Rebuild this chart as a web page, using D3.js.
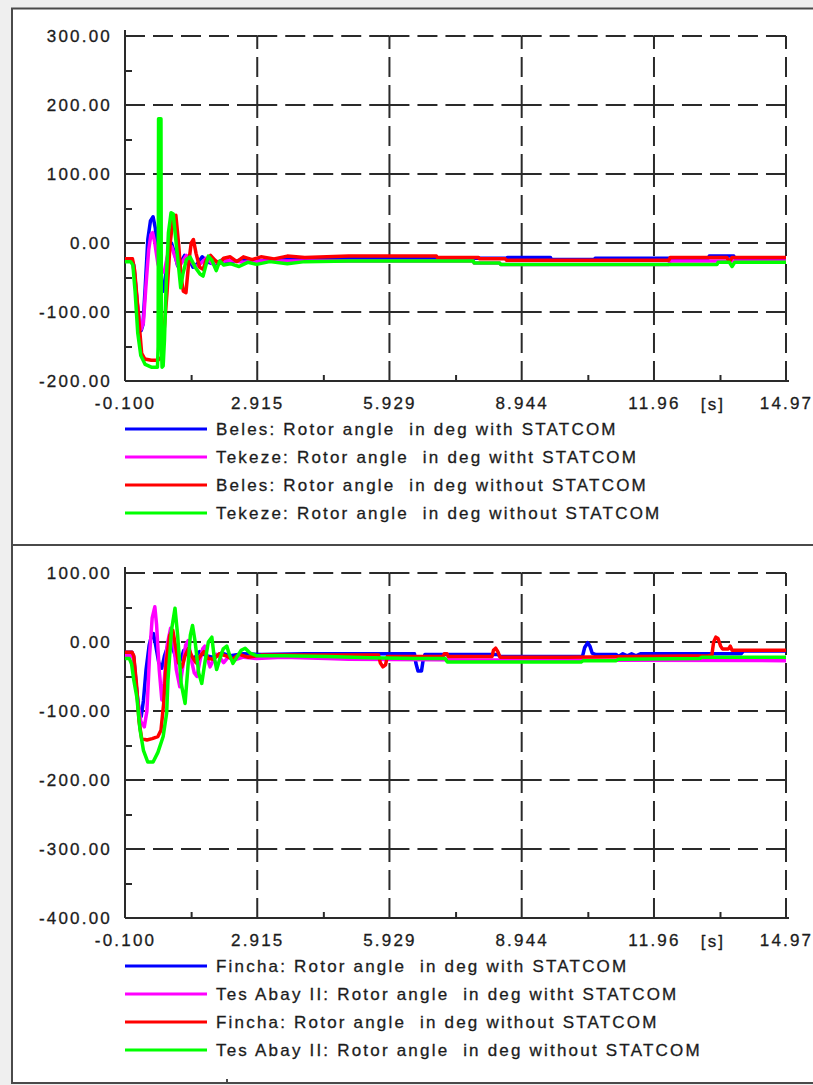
<!DOCTYPE html>
<html>
<head>
<meta charset="utf-8">
<script src="https://cdn.jsdelivr.net/npm/d3@7"></script>
<style>
  body { margin: 0; background: #fff; }
  text { font-family: "Liberation Sans", Arial, sans-serif; font-size: 17px; letter-spacing: 2.2px; fill: #1c1c1c; stroke: #1c1c1c; stroke-width: 0.3px; white-space: pre; }
</style>
</head>
<body>
<div id="chart"></div>
<script>
// ---- data ----
const xTickLabels = ["-0.100", "2.915", "5.929", "8.944", "11.96", "14.97"];
const topYTicks = [300, 200, 100, 0, -100, -200];
const bottomYTicks = [100, 0, -100, -200, -300, -400];
const seriesColors = ["#0000ff", "#ff00ff", "#ff0000", "#00ff00"];

const topLegend = [
    "Beles: Rotor angle  in deg with STATCOM",
    "Tekeze: Rotor angle  in deg witht STATCOM",
    "Beles: Rotor angle  in deg without STATCOM",
    "Tekeze: Rotor angle  in deg without STATCOM"
];
const bottomLegend = [
    "Fincha: Rotor angle  in deg with STATCOM",
    "Tes Abay II: Rotor angle  in deg witht STATCOM",
    "Fincha: Rotor angle  in deg without STATCOM",
    "Tes Abay II: Rotor angle  in deg without STATCOM"
];

// [time s, angle deg]
const belesWith = [[-0.1,-24],[0.05,-24],[0.1,-32],[0.16,-75],[0.22,-115],[0.27,-127],[0.31,-118],[0.36,-65],[0.42,5],[0.48,32],[0.54,38],[0.59,22],[0.65,-20],[0.71,-55],[0.77,-70],[0.83,-45],[0.89,-10],[0.96,0],[1.03,-15],[1.1,-33],[1.17,-28],[1.26,-18],[1.35,-22],[1.45,-35],[1.55,-30],[1.66,-20],[1.8,-28],[1.95,-31],[2.1,-25],[2.3,-28],[2.6,-24],[3.0,-26],[3.5,-23],[4.5,-22],[8.6,-22],[8.62,-21],[9.6,-21],[9.62,-24],[10.6,-24],[10.62,-22],[13.2,-22],[13.22,-19],[13.78,-19],[13.8,-22],[14.97,-22]];
const tekezeWith = [[-0.1,-26],[0.06,-26],[0.12,-45],[0.2,-100],[0.27,-125],[0.32,-115],[0.38,-60],[0.44,-10],[0.49,12],[0.53,15],[0.58,0],[0.65,-30],[0.72,-45],[0.8,-40],[0.88,-15],[0.96,-5],[1.04,-20],[1.12,-35],[1.2,-28],[1.3,-18],[1.4,-25],[1.5,-35],[1.62,-30],[1.75,-22],[1.9,-30],[2.05,-27],[2.3,-25],[2.6,-28],[3.0,-26],[7.84,-26],[7.86,-29],[8.44,-29],[8.46,-31],[12.3,-31],[12.33,-26],[14.97,-26]];
const belesWithout = [[-0.1,-23],[0.07,-23],[0.12,-40],[0.2,-100],[0.28,-160],[0.35,-168],[0.5,-170],[0.65,-170],[0.74,-165],[0.8,-120],[0.86,-70],[0.93,0],[1.0,38],[1.06,40],[1.12,0],[1.18,-50],[1.23,-70],[1.29,-72],[1.35,-30],[1.41,0],[1.46,5],[1.52,-15],[1.6,-35],[1.68,-38],[1.75,-25],[1.85,-18],[1.95,-25],[2.05,-30],[2.15,-22],[2.3,-20],[2.45,-27],[2.6,-20],[2.8,-24],[3.0,-20],[3.3,-23],[3.6,-19],[4.0,-21],[5.0,-19],[7.0,-19],[7.02,-21],[7.96,-21],[7.98,-23],[8.57,-23],[8.6,-25],[12.3,-25],[12.33,-21],[13.62,-21],[13.68,-27],[13.74,-21],[14.97,-21]];
const tekezeWithout = [[-0.1,-27],[0.03,-27],[0.08,-32],[0.13,-70],[0.19,-130],[0.26,-163],[0.36,-176],[0.5,-180],[0.64,-180],[0.655,-150],[0.665,180],[0.72,180],[0.73,-150],[0.745,-180],[0.77,-178],[0.8,-140],[0.84,-57],[0.89,15],[0.95,44],[1.0,42],[1.08,-9],[1.17,-65],[1.22,-45],[1.3,-24],[1.38,-20],[1.5,-35],[1.61,-45],[1.68,-48],[1.8,-19],[1.88,-25],[1.98,-40],[2.06,-26],[2.15,-32],[2.3,-30],[2.5,-34],[2.7,-28],[2.9,-31],[3.2,-27],[3.6,-30],[4.0,-27],[5.0,-26],[7.84,-26],[7.86,-29],[8.44,-29],[8.46,-31],[13.4,-31],[13.42,-28],[13.68,-28],[13.74,-34],[13.8,-28],[14.97,-28]];

const finchaWith = [[-0.1,-15],[0.06,-15],[0.1,-22],[0.16,-65],[0.22,-100],[0.27,-108],[0.32,-85],[0.38,-40],[0.45,-5],[0.5,8],[0.55,12],[0.6,-5],[0.67,-30],[0.74,-38],[0.8,-20],[0.88,-5],[0.95,-2],[1.02,-15],[1.1,-30],[1.17,-26],[1.24,-12],[1.31,-10],[1.4,-24],[1.5,-22],[1.6,-14],[1.75,-20],[1.9,-22],[2.1,-16],[2.3,-20],[2.6,-17],[3.0,-18],[4.0,-17],[6.5,-17],[6.53,-30],[6.58,-42],[6.66,-42],[6.7,-25],[6.74,-18],[8.4,-18],[8.45,-21],[10.33,-21],[10.38,-8],[10.45,-1],[10.5,-6],[10.55,-16],[10.62,-18],[11.1,-18],[11.15,-21],[11.25,-17],[11.35,-20],[11.45,-17],[11.55,-20],[11.65,-17],[13.95,-17],[14.0,-13],[14.97,-13]];
const tesAbayWith = [[-0.1,-20],[0.06,-20],[0.1,-26],[0.18,-80],[0.26,-115],[0.34,-123],[0.4,-100],[0.46,-20],[0.52,35],[0.58,51],[0.62,25],[0.68,-40],[0.74,-84],[0.79,-60],[0.86,-5],[0.94,20],[1.0,5],[1.07,-40],[1.15,-65],[1.22,-35],[1.28,-5],[1.34,2],[1.41,-25],[1.48,-45],[1.54,-50],[1.6,-30],[1.67,-10],[1.72,-6],[1.78,-25],[1.84,-36],[1.9,-28],[1.98,-18],[2.06,-22],[2.15,-30],[2.25,-22],[2.4,-26],[2.6,-22],[2.9,-24],[3.5,-22],[4.5,-24],[5.0,-25],[8.0,-26],[14.97,-27]];
const finchaWithout = [[-0.1,-15],[0.06,-15],[0.1,-20],[0.16,-60],[0.22,-115],[0.28,-140],[0.4,-142],[0.52,-140],[0.65,-137],[0.72,-128],[0.78,-90],[0.84,-30],[0.92,10],[0.99,17],[1.05,-5],[1.12,-30],[1.2,-36],[1.27,-20],[1.35,-9],[1.42,-20],[1.52,-30],[1.6,-22],[1.7,-14],[1.8,-24],[1.92,-25],[2.05,-17],[2.2,-20],[2.35,-25],[2.5,-18],[2.7,-22],[3.0,-19],[4.0,-19],[5.68,-19],[5.72,-30],[5.78,-36],[5.84,-33],[5.88,-21],[7.15,-21],[7.18,-17],[7.24,-17],[7.27,-21],[8.27,-21],[8.3,-12],[8.35,-9],[8.4,-14],[8.45,-22],[10.0,-22],[13.2,-20],[13.28,-19],[13.32,0],[13.37,7],[13.42,5],[13.48,-6],[13.52,-10],[13.66,-10],[13.7,-6],[13.74,-12],[14.97,-12]];
const tesAbayWithout = [[-0.1,-24],[0.0,-24],[0.05,-32],[0.1,-55],[0.17,-80],[0.24,-126],[0.32,-157],[0.42,-174],[0.54,-174],[0.65,-160],[0.77,-137],[0.85,-103],[0.88,-55],[0.96,17],[1.04,49],[1.1,10],[1.18,-60],[1.27,-89],[1.33,-40],[1.39,10],[1.44,24],[1.5,0],[1.58,-45],[1.65,-60],[1.72,-30],[1.8,0],[1.88,7],[1.93,-20],[1.99,-40],[2.06,-25],[2.14,-10],[2.22,-6],[2.28,-18],[2.36,-31],[2.45,-22],[2.55,-12],[2.64,-9],[2.75,-16],[2.91,-20],[3.5,-20],[4.5,-21],[5.5,-23],[6.5,-24],[7.2,-24],[7.25,-29],[10.3,-29],[10.35,-27],[11.1,-27],[11.15,-25],[13.0,-24],[13.05,-22],[14.97,-22]];

// ---- layout ----
const W = 813, H = 1085;
const plot = {left: 125, right: 786, top: 36, bottom: 381};
const panelShift = 537;

const svg = d3.select("#chart")
    .append("svg")
        .attr("width", W)
        .attr("height", H);

// window frame
svg.append("rect").attr("width", W).attr("height", H).attr("fill", "#efefef");
svg.append("rect").attr("x", 12).attr("y", 9).attr("width", W - 12).attr("height", 1074).attr("fill", "#fff");
const frame = [[12, 8, 12, 1084], [11, 8.5, W, 8.5], [12, 545, W, 545], [12, 1083, W, 1083], [227, 1079, 227, 1083]];
svg.selectAll(".frame")
    .data(frame)
    .join("line")
        .attr("x1", d => d[0]).attr("y1", d => d[1])
        .attr("x2", d => d[2]).attr("y2", d => d[3])
        .attr("stroke", "#4a4a4a")
        .attr("stroke-width", 2);

function drawPanel(offsetY, yTicks, series, names) {
    const g = svg.append("g").attr("transform", `translate(0,${offsetY})`);

    const xTicks = xTickLabels.map(Number);
    const x = d3.scaleLinear()
        .domain([xTicks[0], xTicks[xTicks.length - 1]])
        .range([plot.left, plot.right]);
    const y = d3.scaleLinear()
        .domain([yTicks[yTicks.length - 1], yTicks[0]])
        .range([plot.bottom, plot.top]);

    const xMinor = d3.pairs(xTicks).map(p => (p[0] + p[1]) / 2);
    const yMinor = d3.pairs(yTicks).map(p => (p[0] + p[1]) / 2);

    // dashed grid, drawn cell by cell so every crossing gets a dash
    const hSegs = [];
    yTicks.slice(0, -1).forEach(v => d3.pairs(xTicks).forEach(p => hSegs.push([x(p[0]), y(v), x(p[1]), y(v)])));
    const vSegs = [];
    xTicks.slice(1).forEach(t => d3.pairs(yTicks).forEach(p => vSegs.push([x(t), y(p[1]), x(t), y(p[0])])));

    g.append("g")
        .selectAll("line")
        .data(hSegs.concat(vSegs))
        .join("line")
            .attr("x1", d => d[0]).attr("y1", d => d[1])
            .attr("x2", d => d[2]).attr("y2", d => d[3])
            .attr("stroke", "#2a2a2a")
            .attr("stroke-width", 2)
            .attr("stroke-dasharray", "20,8");

    // axes lines
    g.append("line")
        .attr("x1", plot.left).attr("y1", plot.top - 6)
        .attr("x2", plot.left).attr("y2", plot.bottom)
        .attr("stroke", "#2a2a2a").attr("stroke-width", 2);
    g.append("line")
        .attr("x1", plot.left).attr("y1", plot.bottom)
        .attr("x2", plot.right + 3).attr("y2", plot.bottom)
        .attr("stroke", "#2a2a2a").attr("stroke-width", 2);

    // minor ticks
    g.append("g")
        .attr("transform", `translate(${plot.left},0)`)
        .call(d3.axisLeft(y).tickValues(yMinor).tickSize(-7).tickFormat(""))
        .call(a => a.select(".domain").remove())
        .call(a => a.selectAll("line").attr("stroke", "#2a2a2a").attr("stroke-width", 2));
    g.append("g")
        .attr("transform", `translate(0,${plot.bottom})`)
        .call(d3.axisBottom(x).tickValues(xMinor).tickSize(-6).tickFormat(""))
        .call(a => a.select(".domain").remove())
        .call(a => a.selectAll("line").attr("stroke", "#2a2a2a").attr("stroke-width", 2));

    // tick labels
    g.append("g")
        .attr("transform", `translate(${plot.left},0)`)
        .call(d3.axisLeft(y).tickValues(yTicks).tickSize(0).tickPadding(13).tickFormat(d => d.toFixed(2)))
        .call(a => a.select(".domain").remove());
    g.append("g")
        .attr("transform", `translate(0,${plot.bottom})`)
        .call(d3.axisBottom(x).tickValues(xTicks).tickSize(0).tickPadding(16).tickFormat((d, i) => xTickLabels[i]))
        .call(a => a.select(".domain").remove());
    g.append("text")
        .attr("x", 713)
        .attr("y", 409.5)
        .attr("text-anchor", "middle")
        .text("[s]");

    // curves
    const line = d3.line()
        .x(d => x(d[0]))
        .y(d => y(d[1]));

    g.append("g")
        .selectAll("path")
        .data(series)
        .join("path")
            .attr("d", d => line(d))
            .attr("fill", "none")
            .attr("stroke", (d, i) => seriesColors[i])
            .attr("stroke-width", 3.5)
            .attr("stroke-linejoin", "round");

    // legend
    const legendRows = [429, 457, 485, 513];
    const legend = g.selectAll(".legend")
        .data(names)
        .join("g")
            .attr("class", "legend")
            .attr("transform", (d, i) => `translate(0,${legendRows[i]})`);

    legend.append("line")
        .attr("x1", 125).attr("x2", 207)
        .attr("stroke", (d, i) => seriesColors[i])
        .attr("stroke-width", 3);

    legend.append("text")
        .attr("x", 216)
        .attr("dy", "0.35em")
        .text(d => d);
}

drawPanel(0, topYTicks, [belesWith, tekezeWith, belesWithout, tekezeWithout], topLegend);
drawPanel(panelShift, bottomYTicks, [finchaWith, tesAbayWith, finchaWithout, tesAbayWithout], bottomLegend);
</script>
</body>
</html>
